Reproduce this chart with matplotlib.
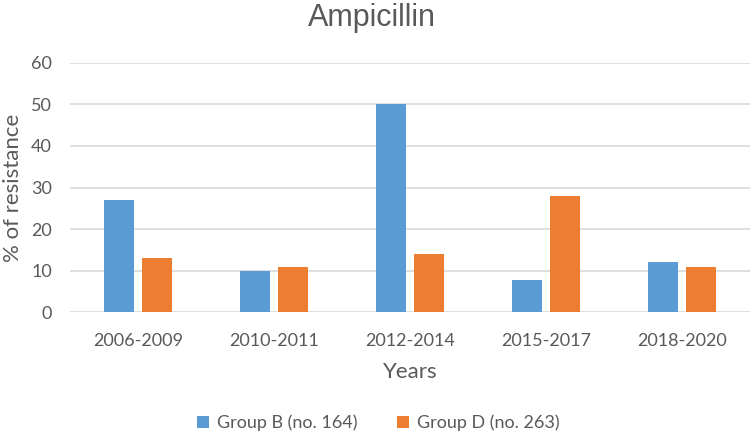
import numpy as np
import matplotlib.pyplot as plt

# values
years = ['2006-2009', '2010-2011', '2012-2014', '2015-2017', '2018-2020']
group_b = [27, 10, 50, 7.7, 12]
group_d = [13, 11, 14, 28, 11]
y_ticks = [0, 10, 20, 30, 40, 50, 60]

blue = '#5B9BD5'
orange = '#ED7D31'
grey = '#595959'

plt.rcParams['font.family'] = ['Lato', 'DejaVu Sans']

fig = plt.figure(figsize=(7.5, 4.4), dpi=100)
ax = fig.add_axes([70 / 750, 1 - 312.3 / 440, 680 / 750, (312.3 - 62.7) / 440])

x = np.arange(len(years))
w = 0.22
gap = 0.066
ax.bar(x - (w + gap) / 2, group_b, w, color=blue, label='Group B (no. 164)', zorder=3)
ax.bar(x + (w + gap) / 2, group_d, w, color=orange, label='Group D (no. 263)', zorder=3)

ax.set_xlim(-0.5, len(years) - 0.5)
ax.set_ylim(0, 60)
ax.set_yticks(y_ticks)
ax.set_xticks(x)
ax.set_xticklabels(years)
ax.tick_params(axis='both', length=0, labelsize=13, colors=grey)
ax.tick_params(axis='y', pad=13)
ax.tick_params(axis='x', pad=15)
ax.grid(axis='y', color='#D9D9D9', linewidth=1.2, zorder=0)
for s in ax.spines.values():
    s.set_visible(False)

ax.set_ylabel('% of resistance', fontsize=16, color=grey, labelpad=6)
ax.set_xlabel('Years', fontsize=16, color=grey, labelpad=9)

fig.text(372 / 750, 1 - 18 / 440, 'Ampicillin', ha='center', va='center',
         fontsize=22, color=grey, family=['Liberation Sans'])

fig.legend(loc='center', bbox_to_anchor=(378 / 750, 1 - 423 / 440), ncol=2,
           frameon=False, fontsize=13, labelcolor=grey, handlelength=0.7,
           handleheight=0.7, handletextpad=0.4, columnspacing=2.2)

fig.savefig('out.png', dpi=100)
